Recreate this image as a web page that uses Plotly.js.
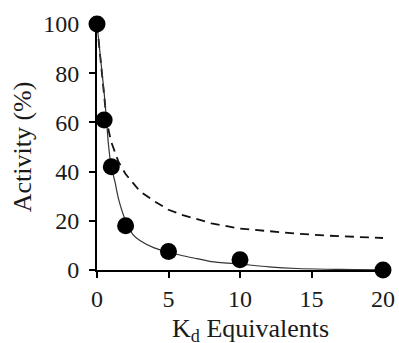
<!DOCTYPE html>
<html>
<head>
<meta charset="utf-8">
<script src="https://cdn.plot.ly/plotly-3.0.1.min.js"></script>
<style>html,body{margin:0;padding:0;background:#fff;}#chart{width:399px;height:343px;}</style>
</head>
<body>
<div id="chart"></div>
<script>
// Measured data points
const pointX = [0, 0.5, 1, 2, 5, 10, 20];
const pointY = [100, 61, 42, 18, 7.5, 4.2, 0];

// Solid fitted curve
const fitX = [0, 0.25, 0.5, 0.65, 0.8, 1, 1.25, 1.5, 2, 2.5, 3, 4, 5, 6, 7, 8, 10, 12, 14, 16, 18, 20];
const fitY = [100, 86, 72, 62, 51, 42, 36, 29, 20, 14.5, 12, 9, 7.3, 5.8, 4.6, 3.4, 2.4, 1.3, 0.6, 0.3, 0.15, 0.1];

// Dashed curve
const dashX = [0, 0.3, 0.6, 0.8, 1, 1.5, 2, 2.5, 3, 4, 5, 6, 7, 8, 10, 12, 14, 16, 18, 20];
const dashY = [100, 82, 65, 57, 52, 44, 39, 35.5, 32, 28, 24.5, 22.3, 20.5, 19, 16.8, 15.7, 14.8, 14, 13.5, 13];

const xTicks = [0, 5, 10, 15, 20];
const yTicks = [0, 20, 40, 60, 80, 100];
const xTitle = 'K<sub>d</sub> Equivalents';
const yTitle = 'Activity (%)';

const font = '"Liberation Serif", "Times New Roman", serif';

const traces = [
  {x: dashX, y: dashY, mode: 'lines', line: {color: '#111', width: 1.8, dash: '9px,6px'}, hoverinfo: 'skip', cliponaxis: false},
  {x: fitX, y: fitY, mode: 'lines', line: {color: '#333', width: 1.2, shape: 'spline', smoothing: 0.6}, hoverinfo: 'skip', cliponaxis: false},
  {x: pointX, y: pointY, mode: 'markers', marker: {color: '#000', size: 17}, cliponaxis: false}
];

const layout = {
  width: 399, height: 343,
  margin: {l: 97, r: 16, t: 24, b: 73},
  paper_bgcolor: '#fff', plot_bgcolor: '#fff',
  showlegend: false,
  font: {family: font, size: 24, color: '#1a1a1a'},
  xaxis: {
    range: [0, 20], tickvals: xTicks, ticks: 'outside', ticklen: 6, tickwidth: 2, tickcolor: '#000',
    showline: true, linecolor: '#000', linewidth: 2, showgrid: false, zeroline: false,
    tickfont: {family: font, size: 24, color: '#1a1a1a'}
  },
  yaxis: {
    range: [0, 100], tickvals: yTicks, ticks: 'outside', ticklen: 6, tickwidth: 2, tickcolor: '#000',
    showline: true, linecolor: '#000', linewidth: 2, showgrid: false, zeroline: false,
    ticklabelstandoff: 5,
    tickfont: {family: font, size: 24, color: '#1a1a1a'},
    title: {text: yTitle, font: {family: font, size: 26, color: '#1a1a1a'}, standoff: 4}
  },
  annotations: [{
    text: xTitle, xref: 'paper', yref: 'paper', x: 0.535, y: -0.245,
    xanchor: 'center', yanchor: 'middle', showarrow: false,
    font: {family: font, size: 26, color: '#1a1a1a'}
  }]
};

Plotly.newPlot('chart', traces, layout, {displayModeBar: false, staticPlot: true});
</script>
</body>
</html>
